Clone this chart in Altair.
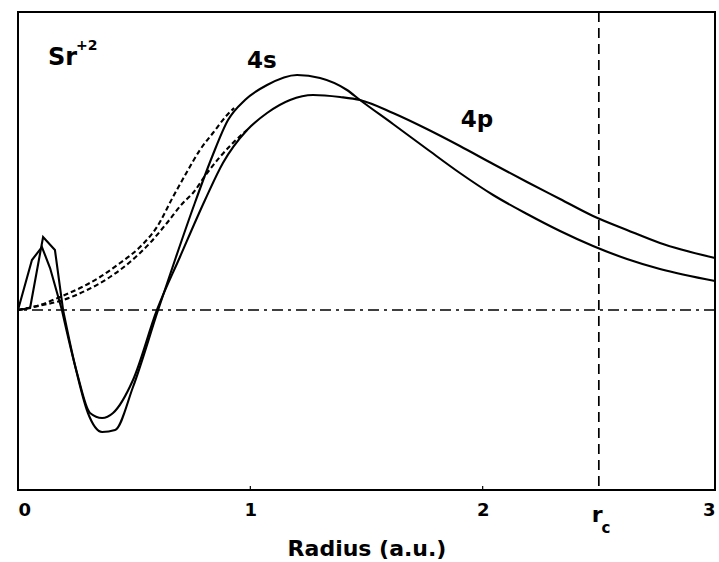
import altair as alt
import pandas as pd

# All-electron 4s radial function of Sr+2
r_4s = [0.0, 0.052, 0.108, 0.159, 0.194, 0.245, 0.301, 0.362, 0.418, 0.495,
        0.603, 0.680, 0.758, 0.835, 0.904, 0.977, 1.072, 1.201, 1.300, 1.416, 1.472,
        1.614, 1.760, 1.902, 2.045, 2.191, 2.333, 2.475, 2.621, 2.763, 3.0]
psi_4s = [0.0, 0.005, 0.1825, 0.15, 0.0, -0.1375, -0.2575, -0.305, -0.30, -0.1925,
          0.0, 0.1325, 0.2625, 0.3825, 0.475, 0.525, 0.5625, 0.5875, 0.58, 0.55, 0.525,
          0.465, 0.4025, 0.3425, 0.2875, 0.24, 0.1975, 0.16, 0.1275, 0.1025, 0.0725]

# All-electron 4p radial function
r_4p = [0.0, 0.060, 0.103, 0.138, 0.189, 0.254, 0.310, 0.362, 0.409, 0.495,
        0.598, 0.697, 0.805, 0.882, 0.986, 1.072, 1.171, 1.270, 1.386, 1.472,
        1.614, 1.760, 1.902, 2.045, 2.191, 2.333, 2.475, 2.621, 2.763, 3.0]
psi_4p = [0.0, 0.125, 0.1575, 0.105, 0.0, -0.1575, -0.2575, -0.27, -0.2575, -0.175,
          0.0, 0.1325, 0.275, 0.3675, 0.45, 0.4925, 0.525, 0.5375, 0.5325, 0.525,
          0.4925, 0.4525, 0.41, 0.365, 0.32, 0.2775, 0.2350, 0.20, 0.1675, 0.13]

# Nodeless pseudo-wavefunctions inside the core region
r_ps_4s = [0.0, 0.095, 0.181, 0.267, 0.353, 0.439, 0.525, 0.598, 0.667, 0.727,
           0.783, 0.839, 0.900, 0.930]
psi_ps_4s = [0.0, 0.0125, 0.0325, 0.055, 0.0825, 0.1175, 0.1575, 0.2075, 0.2825, 0.345,
             0.40, 0.4425, 0.4875, 0.505]
r_ps_4p = [0.0, 0.065, 0.194, 0.297, 0.396, 0.482, 0.568, 0.641, 0.710, 0.753,
           0.814, 0.869, 0.925, 0.986]
psi_ps_4p = [0.0, 0.0075, 0.025, 0.05, 0.0825, 0.12, 0.1675, 0.2175, 0.2675, 0.2925,
             0.3425, 0.3825, 0.4175, 0.45]

r_cut = 2.5
x_ticks = [0, 1, 2, 3]
inner_ticks = [1, 2]
r_node = 0.19  # innermost node: drawn point to point inside, smoothed outside

FONT = "DejaVu Sans"
W, H = 697, 478
Y_DOM = [-0.45, 0.745]


def frame(name, rs, vals):
    return pd.DataFrame({"curve": name, "r": rs, "psi": vals})


solid = pd.concat([frame("4s", r_4s, psi_4s), frame("4p", r_4p, psi_4p)], ignore_index=True)
solid_inner = solid[solid["r"] <= r_node + 0.006]
solid_outer = solid[solid["r"] >= r_node - 0.002]
pseudo = pd.concat([frame("4s", r_ps_4s, psi_ps_4s), frame("4p", r_ps_4p, psi_ps_4p)],
                   ignore_index=True)

x_scale = alt.Scale(domain=[0, 3], nice=False, zero=False)
y_scale = alt.Scale(domain=Y_DOM, nice=False, zero=False)
x_axis = alt.Axis(values=x_ticks, title="Radius (a.u.)", format="d",
                  labelFont=FONT, labelFontSize=18, labelFontWeight="bold",
                  labelColor="black", labelPadding=11, ticks=False, domain=False,
                  grid=False, titleFont=FONT, titleFontSize=22,
                  titleFontWeight="bold", titleColor="black", titlePadding=19)


def X(field="r:Q"):
    return alt.X(field, scale=x_scale, axis=x_axis)


def Y(field="psi:Q"):
    return alt.Y(field, scale=y_scale, axis=None)


inner_lines = alt.Chart(solid_inner).mark_line(
    color="black", strokeWidth=2.1, interpolate="linear"
).encode(x=X(), y=Y(), detail="curve:N")

outer_lines = alt.Chart(solid_outer).mark_line(
    color="black", strokeWidth=2.1, interpolate="monotone"
).encode(x=X(), y=Y(), detail="curve:N")

pseudo_lines = alt.Chart(pseudo).mark_line(
    color="black", strokeWidth=2.1, strokeDash=[5, 3], interpolate="monotone"
).encode(x=X(), y=Y(), detail="curve:N")

zero_line = alt.Chart(pd.DataFrame({"psi": [0.0]})).mark_rule(
    color="black", strokeWidth=1.7, strokeDash=[11, 5, 3, 5]
).encode(y=Y())

cut_line = alt.Chart(pd.DataFrame({"r": [r_cut]})).mark_rule(
    color="black", strokeWidth=1.7, strokeDash=[10, 6]
).encode(x=X())

small_ticks = alt.Chart(pd.DataFrame({"r": inner_ticks})).mark_rule(
    color="black", strokeWidth=1.2
).encode(x=X(), y=alt.value(H), y2=alt.value(H - 4))


def label(text, r, psi, size, align="center"):
    return alt.Chart(pd.DataFrame({"r": [r], "psi": [psi], "t": [text]})).mark_text(
        font=FONT, fontSize=size, fontWeight="bold", color="black",
        align=align, baseline="alphabetic"
    ).encode(x=X(), y=Y(), text="t:N")


def pixel_label(text, r, ypix, size):
    return alt.Chart(pd.DataFrame({"r": [r], "t": [text]})).mark_text(
        font=FONT, fontSize=size, fontWeight="bold", color="black",
        align="left", baseline="alphabetic"
    ).encode(x=X(), y=alt.value(ypix), text="t:N")


annotations = [
    label("Sr", 0.129, 0.6125, 24, "left"),
    label("+2", 0.250, 0.65, 14, "left"),
    label("4s", 1.050, 0.605, 23),
    label("4p", 1.976, 0.4575, 23),
    pixel_label("r", 2.470, 510, 22),
    pixel_label("c", 2.512, 521, 15),
]

chart = alt.layer(
    zero_line, cut_line, small_ticks, pseudo_lines, inner_lines, outer_lines, *annotations
).properties(
    width=W, height=H,
    autosize=alt.AutoSizeParams(type="none"),
    padding={"left": 18, "top": 12, "right": 4, "bottom": 72},
    background="white",
).configure_view(stroke="black", strokeWidth=2)

chart.save("out.html", embed_options={"renderer": "svg", "actions": False})
